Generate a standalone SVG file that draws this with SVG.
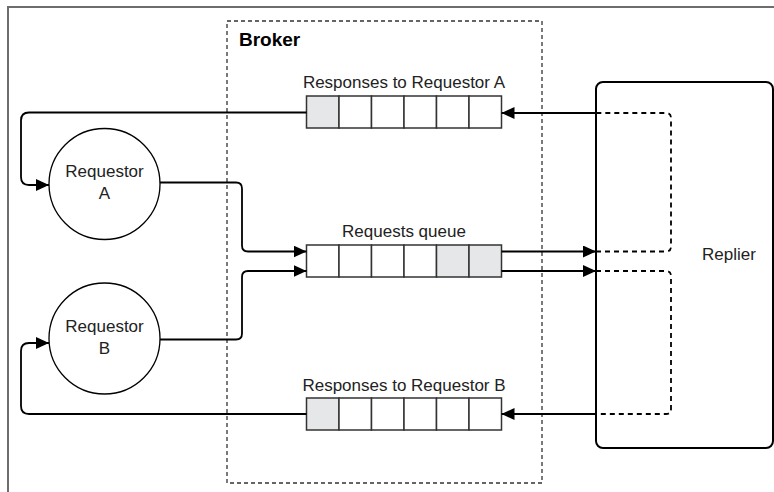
<svg xmlns="http://www.w3.org/2000/svg" width="774" height="492" viewBox="0 0 774 492">
<defs>
<marker id="arr" markerWidth="13" markerHeight="12" refX="13" refY="6" orient="auto" markerUnits="userSpaceOnUse"><path d="M0,0 L13,6 L0,12 z" fill="#000"/></marker>
<style>
.t{font-family:"Liberation Sans",Arial,sans-serif;font-size:17px;fill:#222;}
.b{font-family:"Liberation Sans",Arial,sans-serif;font-size:19px;font-weight:bold;fill:#000;}
.cell{fill:#fff;stroke:#333;stroke-width:1.5;}
.g{fill:#e6e7e9;}
.ln{fill:none;stroke:#000;stroke-width:1.8;}
.ds{fill:none;stroke:#000;stroke-width:1.8;stroke-dasharray:5,4;}
</style>
</defs>
<rect width="774" height="492" fill="#fff"/>
<path d="M8,492 V7 H774" fill="none" stroke="#6d6d6d" stroke-width="2"/>
<g id="broker">
<rect x="227" y="21" width="315" height="462" fill="none" stroke="#333" stroke-width="1.3" stroke-dasharray="4,3"/>
<text class="b" x="239" y="45.5">Broker</text>
</g>
<g id="respA">
<text class="t" x="404" y="88" text-anchor="middle">Responses to Requestor A</text>
<rect class="cell g" x="306.5" y="96" width="32.5" height="32"/>
<rect class="cell" x="339" y="96" width="32.5" height="32"/>
<rect class="cell" x="371.5" y="96" width="32.5" height="32"/>
<rect class="cell" x="404" y="96" width="32.5" height="32"/>
<rect class="cell" x="436.5" y="96" width="32.5" height="32"/>
<rect class="cell" x="469" y="96" width="32.5" height="32"/>
</g>
<g id="reqQueue">
<text class="t" x="404" y="237" text-anchor="middle">Requests queue</text>
<rect class="cell" x="306.5" y="245" width="32.5" height="32"/>
<rect class="cell" x="339" y="245" width="32.5" height="32"/>
<rect class="cell" x="371.5" y="245" width="32.5" height="32"/>
<rect class="cell" x="404" y="245" width="32.5" height="32"/>
<rect class="cell g" x="436.5" y="245" width="32.5" height="32"/>
<rect class="cell g" x="469" y="245" width="32.5" height="32"/>
</g>
<g id="respB">
<text class="t" x="404" y="391" text-anchor="middle">Responses to Requestor B</text>
<rect class="cell g" x="306.5" y="398" width="32.5" height="32"/>
<rect class="cell" x="339" y="398" width="32.5" height="32"/>
<rect class="cell" x="371.5" y="398" width="32.5" height="32"/>
<rect class="cell" x="404" y="398" width="32.5" height="32"/>
<rect class="cell" x="436.5" y="398" width="32.5" height="32"/>
<rect class="cell" x="469" y="398" width="32.5" height="32"/>
</g>
<g id="requestorA">
<circle cx="104.5" cy="184" r="55.5" fill="#fff" stroke="#000" stroke-width="1.3"/>
<text class="t" x="104.5" y="177" text-anchor="middle">Requestor</text>
<text class="t" x="104.5" y="198.5" text-anchor="middle">A</text>
</g>
<g id="requestorB">
<circle cx="104.5" cy="338.5" r="55.5" fill="#fff" stroke="#000" stroke-width="1.3"/>
<text class="t" x="104.5" y="332" text-anchor="middle">Requestor</text>
<text class="t" x="104.5" y="354" text-anchor="middle">B</text>
</g>
<g id="replier">
<rect x="596" y="82" width="177" height="366" rx="7" fill="#fff" stroke="#000" stroke-width="2"/>
<text class="t" x="729" y="260" text-anchor="middle">Replier</text>
</g>
<g id="connectors">
<path class="ln" d="M306.5,112.5 H29 Q21,112.5 21,120.5 V177 Q21,185 29,185 H49" marker-end="url(#arr)"/>
<path class="ln" d="M160,182.5 H236 Q242,182.5 242,188.5 V245.5 Q242,251.5 248,251.5 H306.5" marker-end="url(#arr)"/>
<path class="ln" d="M160,339.5 H236 Q242,339.5 242,333.5 V277 Q242,271 248,271 H306.5" marker-end="url(#arr)"/>
<path class="ln" d="M501.5,251.5 H596" marker-end="url(#arr)"/>
<path class="ln" d="M501.5,271 H596" marker-end="url(#arr)"/>
<path class="ds" d="M596,251.5 H666 Q671,251.5 671,246.5 V118 Q671,113 666,113 H596"/>
<path class="ln" d="M597,113 H501.5" marker-end="url(#arr)"/>
<path class="ds" d="M596,271 H666 Q671,271 671,276 V409 Q671,414 666,414 H596"/>
<path class="ln" d="M597,414 H501.5" marker-end="url(#arr)"/>
<path class="ln" d="M306.5,414 H29 Q21,414 21,406 V351 Q21,343 29,343 H49" marker-end="url(#arr)"/>
</g>
</svg>
